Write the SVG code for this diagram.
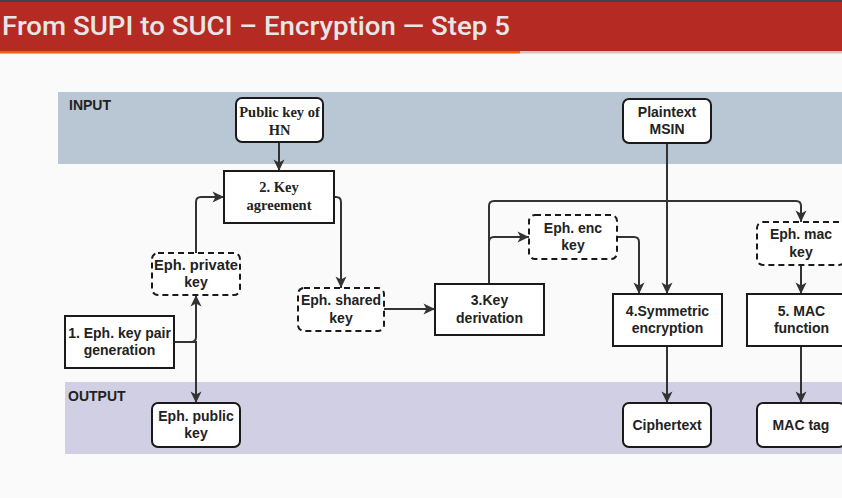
<svg xmlns="http://www.w3.org/2000/svg" width="842" height="498" viewBox="0 0 842 498">
<defs>
<style>
.box{fill:#fff;stroke:#1a1a1a;stroke-width:2}
.dash{fill:#fff;stroke:#1a1a1a;stroke-width:2;stroke-dasharray:6 4}
.s{font-family:"Liberation Sans",Arial,sans-serif;font-weight:bold;font-size:14px;fill:#222;text-anchor:middle}
.r{font-family:"Liberation Serif","Times New Roman",serif;font-weight:bold;font-size:14.5px;fill:#222;text-anchor:middle}
.lbl{font-family:"Liberation Sans",Arial,sans-serif;font-weight:bold;font-size:14px;fill:#222}
.c{fill:none;stroke:#333;stroke-width:2}
</style>
<marker id="ar" markerUnits="userSpaceOnUse" markerWidth="14" markerHeight="14" viewBox="0 0 14 14" refX="12.5" refY="7" orient="auto">
<path d="M1,1.5 L12.5,7 L1,12.5 L4,7 z" fill="#333"/>
</marker>
</defs>
<rect width="842" height="498" fill="#fafafa"/>
<g id="header">
<rect x="0" y="0" width="842" height="3" fill="#444"/>
<rect x="0" y="2" width="842" height="49" fill="#b52a22"/>
<rect x="0" y="51" width="520" height="2.5" fill="#f25c0e"/>
<rect x="520" y="51" width="322" height="2.5" fill="#d9c4b6"/>
<text x="2" y="35" font-family="Roboto,'Liberation Sans',sans-serif" font-weight="500" font-size="25" fill="#e6e6e6" textLength="508" lengthAdjust="spacingAndGlyphs">From SUPI to SUCI – Encryption — Step 5</text>
</g>
<g id="bands">
<rect x="58" y="92" width="784" height="72" fill="#b8c7d3"/>
<text class="lbl" x="69" y="110">INPUT</text>
<rect x="65" y="382" width="777" height="72" fill="#d0cfe3"/>
<text class="lbl" x="68" y="401">OUTPUT</text>
</g>
<g id="connectors">
<path class="c" d="M279,142 V171" marker-end="url(#ar)"/>
<path class="c" d="M174,342 H191 Q196,342 196,337 V295" marker-end="url(#ar)"/>
<path class="c" d="M191,342 H196 V403" marker-end="url(#ar)"/>
<path class="c" d="M196,253 V202 Q196,197 201,197 H224" marker-end="url(#ar)"/>
<path class="c" d="M334,197 H336 Q341,197 341,202 V288" marker-end="url(#ar)"/>
<path class="c" d="M384,309 H435" marker-end="url(#ar)"/>
<path class="c" d="M489,284 V242 Q489,237 494,237 H529" marker-end="url(#ar)"/>
<path class="c" d="M489,245 V206 Q489,201 494,201 H796 Q801,201 801,206 V222" marker-end="url(#ar)"/>
<path class="c" d="M617,237 H634 Q639,237 639,242 V294" marker-end="url(#ar)"/>
<path class="c" d="M667,143 V294" marker-end="url(#ar)"/>
<path class="c" d="M667,346 V403" marker-end="url(#ar)"/>
<path class="c" d="M801,265 V294" marker-end="url(#ar)"/>
<path class="c" d="M801,346 V403" marker-end="url(#ar)"/>
</g>
<g id="pubHN">
<rect class="box" x="236" y="98" width="87" height="44" rx="6"/>
<text class="r" x="279.5" y="117">Public key of</text>
<text class="r" x="279.5" y="135">HN</text>
</g>
<g id="keyAgreement">
<rect class="box" x="224" y="171" width="110" height="52"/>
<text class="r" x="279" y="192">2. Key</text>
<text class="r" x="279" y="210">agreement</text>
</g>
<g id="ephPrivate">
<rect class="dash" x="152" y="253" width="88" height="42" rx="6"/>
<text class="s" x="196" y="269.5" textLength="84" lengthAdjust="spacingAndGlyphs">Eph. private</text>
<text class="s" x="196" y="287">key</text>
</g>
<g id="keyPairGen">
<rect class="box" x="65" y="316" width="109" height="52"/>
<text class="s" x="119.5" y="337.5">1. Eph. key pair</text>
<text class="s" x="119.5" y="355">generation</text>
</g>
<g id="ephPublic">
<rect class="box" x="152" y="403" width="88" height="44" rx="6"/>
<text class="s" x="196" y="420.5">Eph. public</text>
<text class="s" x="196" y="438">key</text>
</g>
<g id="ephShared">
<rect class="dash" x="298" y="288" width="86" height="43" rx="6"/>
<text class="s" x="341" y="305">Eph. shared</text>
<text class="s" x="341" y="322.5">key</text>
</g>
<g id="keyDerivation">
<rect class="box" x="435" y="284" width="109" height="51"/>
<text class="s" x="489.5" y="305">3.Key</text>
<text class="s" x="489.5" y="323">derivation</text>
</g>
<g id="ephEnc">
<rect class="dash" x="529" y="215" width="88" height="44" rx="6"/>
<text class="s" x="573" y="232.5">Eph. enc</text>
<text class="s" x="573" y="250">key</text>
</g>
<g id="plaintext">
<rect class="box" x="623" y="99" width="88" height="44" rx="6"/>
<text class="s" x="667" y="116.5">Plaintext</text>
<text class="s" x="667" y="134">MSIN</text>
</g>
<g id="symEnc">
<rect class="box" x="613" y="294" width="109" height="52"/>
<text class="s" x="667.5" y="315.5">4.Symmetric</text>
<text class="s" x="667.5" y="333">encryption</text>
</g>
<g id="ciphertext">
<rect class="box" x="623" y="403" width="88" height="44" rx="6"/>
<text class="s" x="667" y="429.5">Ciphertext</text>
</g>
<g id="ephMac">
<rect class="dash" x="757" y="222" width="88" height="43" rx="6"/>
<text class="s" x="801" y="239">Eph. mac</text>
<text class="s" x="801" y="257">key</text>
</g>
<g id="macFunction">
<rect class="box" x="747" y="294" width="109" height="52"/>
<text class="s" x="801.5" y="315.5">5. MAC</text>
<text class="s" x="801.5" y="333">function</text>
</g>
<g id="macTag">
<rect class="box" x="757" y="403" width="88" height="44" rx="6"/>
<text class="s" x="801" y="429.5">MAC tag</text>
</g>
</svg>
